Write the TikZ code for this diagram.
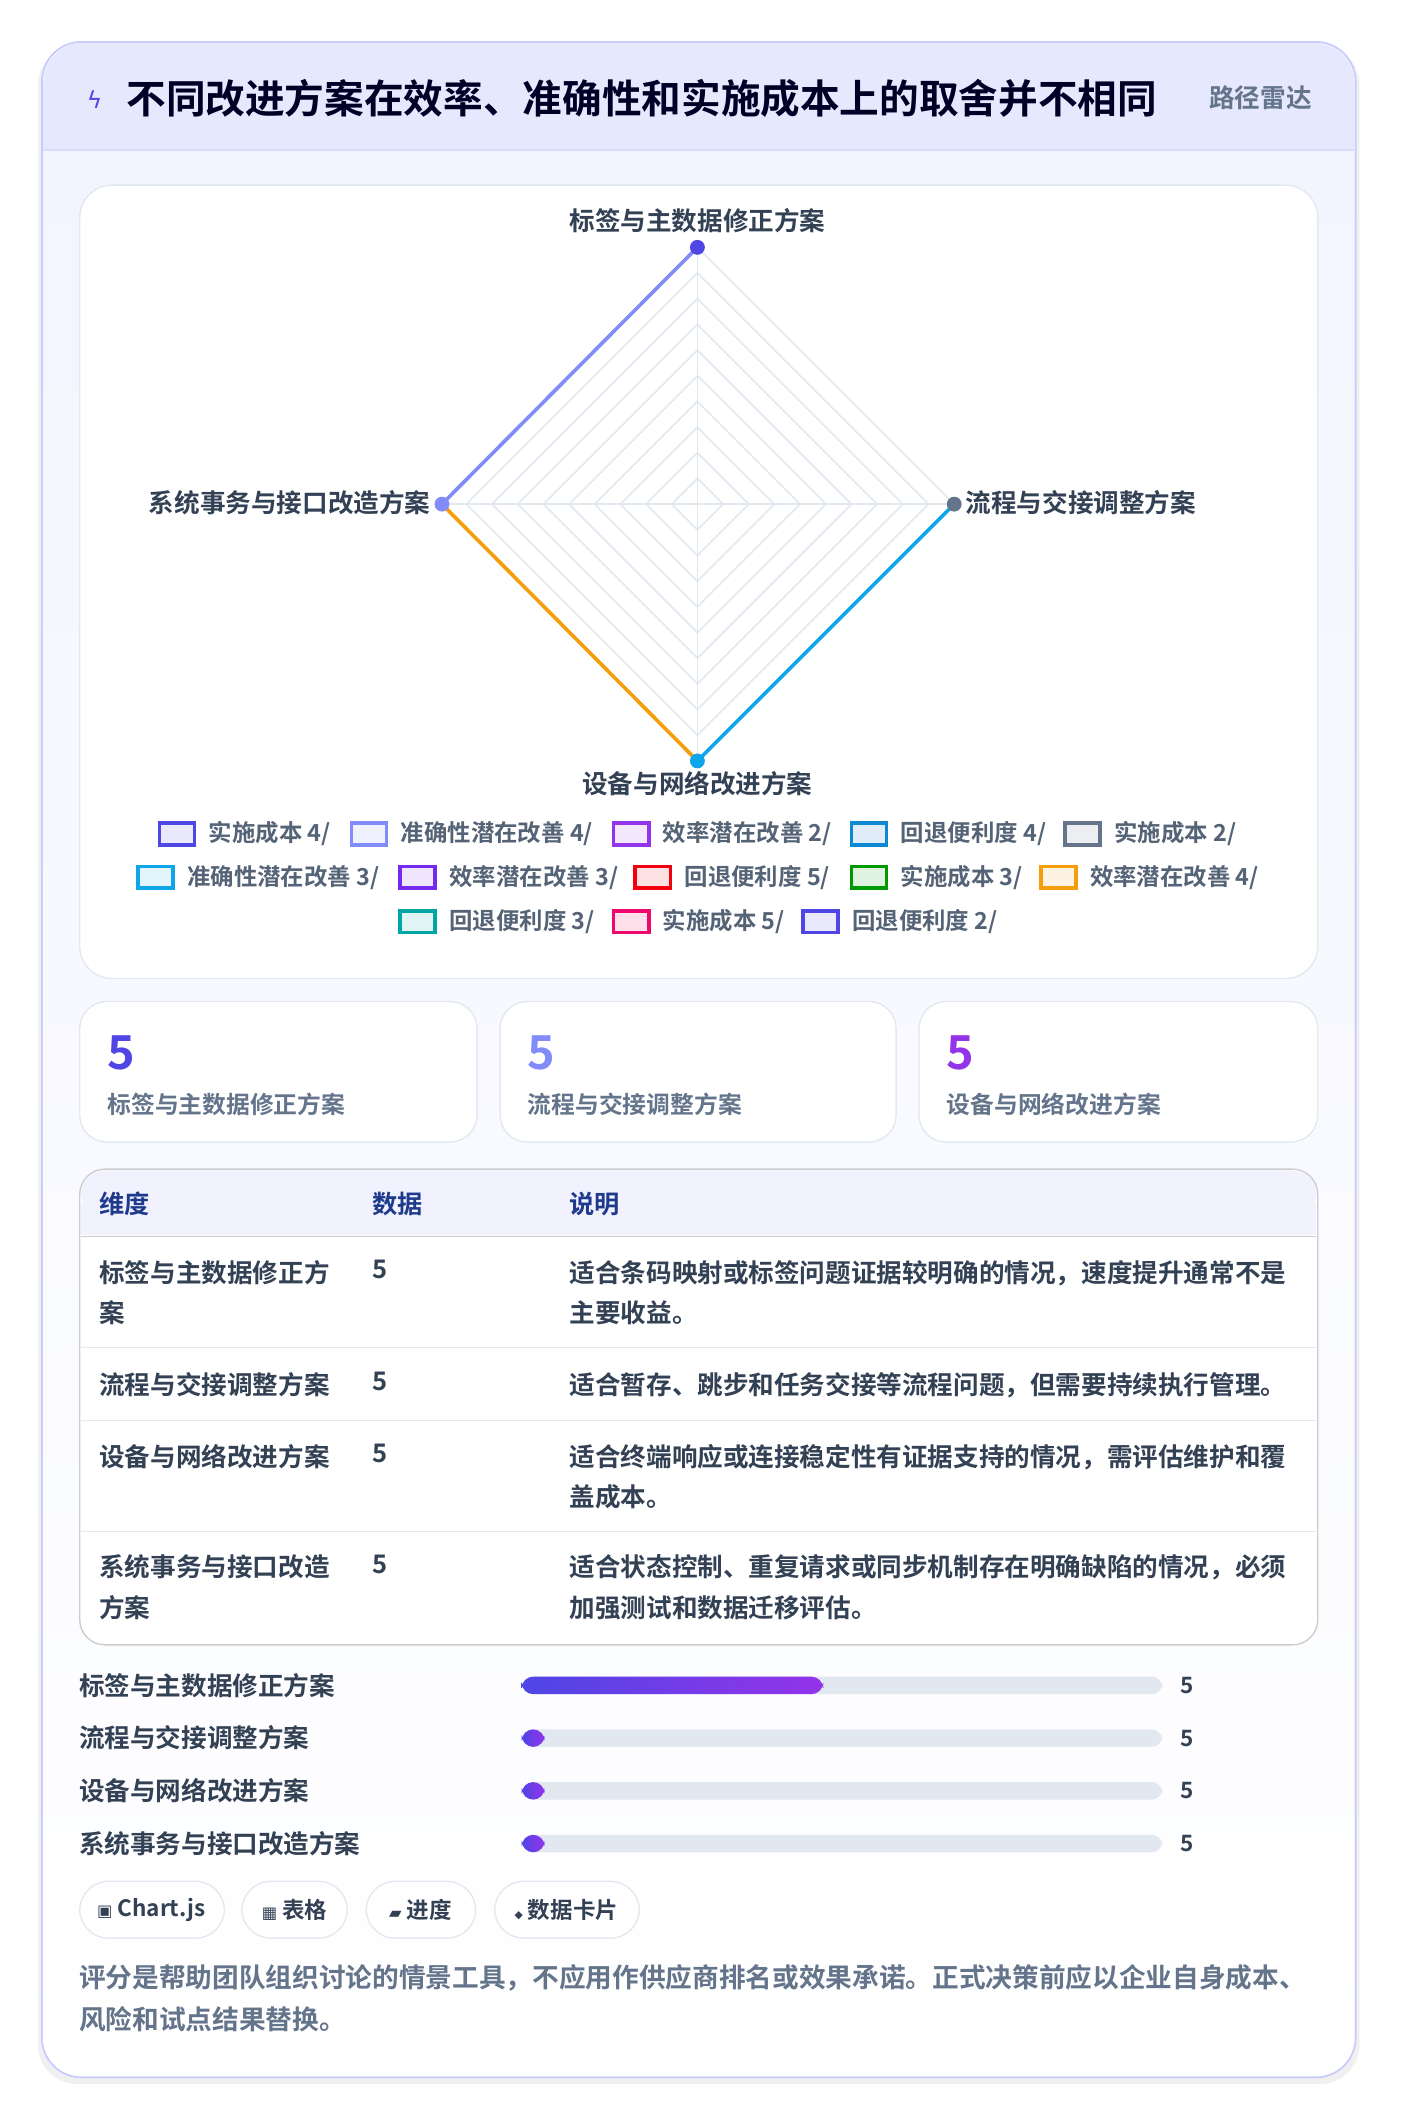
\documentclass[tikz,border=0pt]{standalone}
\usepackage{fontspec}
\setmainfont{Noto Sans CJK SC}[BoldFont={Noto Sans CJK SC Bold}]
\newfontfamily\symfont{DejaVu Sans}
\usetikzlibrary{positioning}
\definecolor{indigo}{HTML}{4F46E5}
\definecolor{indigolt}{HTML}{818CF8}
\definecolor{purp}{HTML}{9333EA}
\definecolor{sky}{HTML}{0EA5E9}
\definecolor{amber}{HTML}{F59E0B}
\definecolor{slate}{HTML}{64748B}
\definecolor{ink}{HTML}{334155}
\definecolor{navy}{HTML}{1E3A8A}
\definecolor{edge}{HTML}{E2E8F0}
\tikzset{every picture/.style={line width=0.75pt}}
\tikzset{
  axislabel/.style={font=\bfseries\fontsize{14.2}{16}\selectfont, text=ink, inner sep=0.75pt},
  legtext/.style={font=\bfseries\fontsize{13}{15}\selectfont, text=slate!85!black, anchor=west, inner sep=0.75pt},
  cell/.style={font=\bfseries\fontsize{14.2}{22.5}\selectfont, text=ink, anchor=north west, inner sep=0.75pt, align=left},
  card/.style={draw=edge, fill=white, rounded corners=15pt},
  chip/.style={draw=edge, fill=white, rounded corners=16pt},
  chiptext/.style={font=\bfseries\fontsize{12.5}{15}\selectfont, text=ink, inner sep=0.75pt},
}
\newcommand{\legitem}[5]{% x, y, colour, text, name
  \draw[#3, line width=2pt, fill=#3!12] (#1,#2-8) rectangle (#1+26,#2+8);
  \node[legtext] (#5) at (#1+35,#2) {#4};}
\begin{document}
\begin{tikzpicture}[x=0.75pt,y=0.75pt,yscale=-1,xscale=1]
\useasboundingbox (0,0) rectangle (1036,1573);
\fill[white] (0,0) rectangle (1036,1573);
%Outer card
\fill[black!6, rounded corners=22pt] (28,34) rectangle (1006,1542);
\shade[top color=indigolt!10, bottom color=white, draw=indigolt!45, rounded corners=22pt] (31,31) rectangle (1003,1537);
\draw[draw=indigolt!45, rounded corners=22pt] (31,31) rectangle (1003,1537);
\fill[fill=indigolt!20, rounded corners=22pt] (32,32) rectangle (1002,80);
\fill[fill=indigolt!20] (32,60) rectangle (1002,110);
\draw[indigolt!30] (32,111) -- (1002,111);
\node[text=indigo, font=\symfont\fontsize{13}{15}\selectfont] (bolt) at (70,74) {ϟ};
\node[anchor=west, font=\bfseries\fontsize{22}{26}\selectfont, text=black!85!blue, inner sep=0.75pt] (title) at (92,73) {不同改进方案在效率、准确性和实施成本上的取舍并不相同};
\node[anchor=east, font=\bfseries\fontsize{14.2}{16}\selectfont, text=slate, inner sep=0.75pt] (tag) at (972,72) {路径雷达};

%Chart panel
\draw[card, rounded corners=18pt] (59,137) rectangle (975,724);
\coordinate (c) at (516,373);
\foreach \r in {19,38,...,190}
  \draw[edge, line width=0.9pt] (516,373-\r) -- (516+\r,373) -- (516,373+\r) -- (516-\r,373) -- cycle;
\foreach \dx/\dy in {0/-190,190/0,0/190,-190/0}
  \draw[edge, line width=0.9pt] (c) -- ++(\dx,\dy);
\coordinate (pt) at (516,183);
\coordinate (pr) at (706,373);
\coordinate (pb) at (516,563);
\coordinate (pl) at (327,373);
\draw[indigolt, line width=2pt] (pl) -- (pt);
\draw[sky, line width=2pt] (pr) -- (pb);
\draw[amber, line width=2pt] (pb) -- (pl);
\fill[indigo] (pt) circle (5.5);
\fill[slate] (pr) circle (5.5);
\fill[sky] (pb) circle (5.5);
\fill[indigolt] (pl) circle (5.5);
\node[axislabel] (lt) at (516,163) {标签与主数据修正方案};
\node[axislabel, anchor=west] (lr) at (713,372) {流程与交接调整方案};
\node[axislabel] (lb) at (516,580) {设备与网络改进方案};
\node[axislabel, anchor=east] (ll) at (320,372) {系统事务与接口改造方案};

%Legend
\legitem{118}{617}{indigo}{实施成本 4/}{g1}
\legitem{260}{617}{indigolt}{准确性潜在改善 4/}{g2}
\legitem{454}{617}{purp}{效率潜在改善 2/}{g3}
\legitem{630}{617}{cyan!70!blue}{回退便利度 4/}{g4}
\legitem{788}{617}{slate}{实施成本 2/}{g5}
\legitem{102}{649}{sky}{准确性潜在改善 3/}{g6}
\legitem{296}{649}{purp!80!blue}{效率潜在改善 3/}{g7}
\legitem{470}{649}{red!80!purple}{回退便利度 5/}{g8}
\legitem{630}{649}{green!60!black}{实施成本 3/}{g9}
\legitem{770}{649}{amber}{效率潜在改善 4/}{g10}
\legitem{296}{682}{teal!70!cyan}{回退便利度 3/}{g11}
\legitem{454}{682}{magenta!70!red}{实施成本 5/}{g12}
\legitem{594}{682}{indigo}{回退便利度 2/}{g13}

%Stat cards
\foreach \xa/\xb/\col/\txt/\nm in {59/353/indigo/标签与主数据修正方案/s1, 370/663/indigolt/流程与交接调整方案/s2, 680/975/purp/设备与网络改进方案/s3}{
  \draw[card] (\xa,741) rectangle (\xb,845);
  \node[anchor=west, font=\bfseries\fontsize{26}{28}\selectfont, text=\col, inner sep=0.75pt] (\nm n) at (\xa+19,779) {5};
  \node[anchor=west, font=\bfseries\fontsize{13.2}{15}\selectfont, text=slate, inner sep=0.75pt] (\nm t) at (\xa+19,817) {\txt};
}

%Table
\draw[draw=black!20, fill=white, rounded corners=14pt] (59,865) rectangle (975,1217);
\fill[blue!5, rounded corners=13pt] (60,866) rectangle (974,900);
\fill[blue!5] (60,890) rectangle (974,914);
\draw[black!20] (60,915) -- (974,915);
\foreach \y in {997,1051,1133} \draw[edge] (60,\y) -- (974,\y);
\node[anchor=west, font=\bfseries\fontsize{14}{16}\selectfont, text=navy, inner sep=0.75pt] (h1) at (72,891) {维度};
\node[anchor=west, font=\bfseries\fontsize{14}{16}\selectfont, text=navy, inner sep=0.75pt] (h2) at (274,891) {数据};
\node[anchor=west, font=\bfseries\fontsize{14}{16}\selectfont, text=navy, inner sep=0.75pt] (h3) at (420,891) {说明};
\node[cell] (r1a) at (72,931) {标签与主数据修正方\\案};
\node[cell] (r1b) at (274,931) {5};
\node[cell] (r1c) at (420,931) {适合条码映射或标签问题证据较明确的情况，速度提升通常不是\\主要收益。};
\node[cell] (r2a) at (72,1014) {流程与交接调整方案};
\node[cell] (r2b) at (274,1014) {5};
\node[cell] (r2c) at (420,1014) {适合暂存、跳步和任务交接等流程问题，但需要持续执行管理。};
\node[cell] (r3a) at (72,1067) {设备与网络改进方案};
\node[cell] (r3b) at (274,1067) {5};
\node[cell] (r3c) at (420,1067) {适合终端响应或连接稳定性有证据支持的情况，需评估维护和覆\\盖成本。};
\node[cell] (r4a) at (72,1149) {系统事务与接口改造\\方案};
\node[cell] (r4b) at (274,1149) {5};
\node[cell] (r4c) at (420,1149) {适合状态控制、重复请求或同步机制存在明确缺陷的情况，必须\\加强测试和数据迁移评估。};

%Bars
\foreach \y/\txt/\nm in {1247/标签与主数据修正方案/b1, 1286/流程与交接调整方案/b2, 1325/设备与网络改进方案/b3, 1364/系统事务与接口改造方案/b4}{
  \node[anchor=west, font=\bfseries\fontsize{14.2}{16}\selectfont, text=ink, inner sep=0.75pt] (\nm l) at (57,\y) {\txt};
  \fill[edge, rounded corners=6pt] (386,\y-6.5) rectangle (860,\y+6.5);
  \node[anchor=west, font=\bfseries\fontsize{12.5}{15}\selectfont, text=ink, inner sep=0.75pt] (\nm v) at (872,\y) {5};
}
\shade[left color=indigo, right color=purp, rounded corners=6.5pt] (386,1240.5) rectangle (609,1253.5);
\foreach \y in {1286,1325,1364}
  \shade[left color=indigo, right color=purp, rounded corners=6.5pt] (386,\y-6.5) rectangle (403,\y+6.5);

%Chips
\draw[chip] (59,1392) rectangle (166,1434);
\node[chiptext] (k1) at (112,1413) {{\symfont\fontsize{9}{10}\selectfont ▣} Chart.js};
\draw[chip] (179,1392) rectangle (257,1434);
\node[chiptext] (k2) at (218,1413) {{\symfont\fontsize{9}{10}\selectfont ▦} 表格};
\draw[chip] (271,1392) rectangle (352,1434);
\node[chiptext] (k3) at (311,1413) {{\symfont\fontsize{9}{10}\selectfont ▰} 进度};
\draw[chip] (366,1392) rectangle (473,1434);
\node[chiptext] (k4) at (419,1413) {{\symfont\fontsize{6}{10}\selectfont ◆} 数据卡片};

%Footnote
\node[anchor=north west, font=\bfseries\fontsize{14.8}{23.5}\selectfont, text=slate, inner sep=0.75pt, align=left] (note) at (57,1452) {评分是帮助团队组织讨论的情景工具，不应用作供应商排名或效果承诺。正式决策前应以企业自身成本、\\风险和试点结果替换。};
\end{tikzpicture}
\end{document}
